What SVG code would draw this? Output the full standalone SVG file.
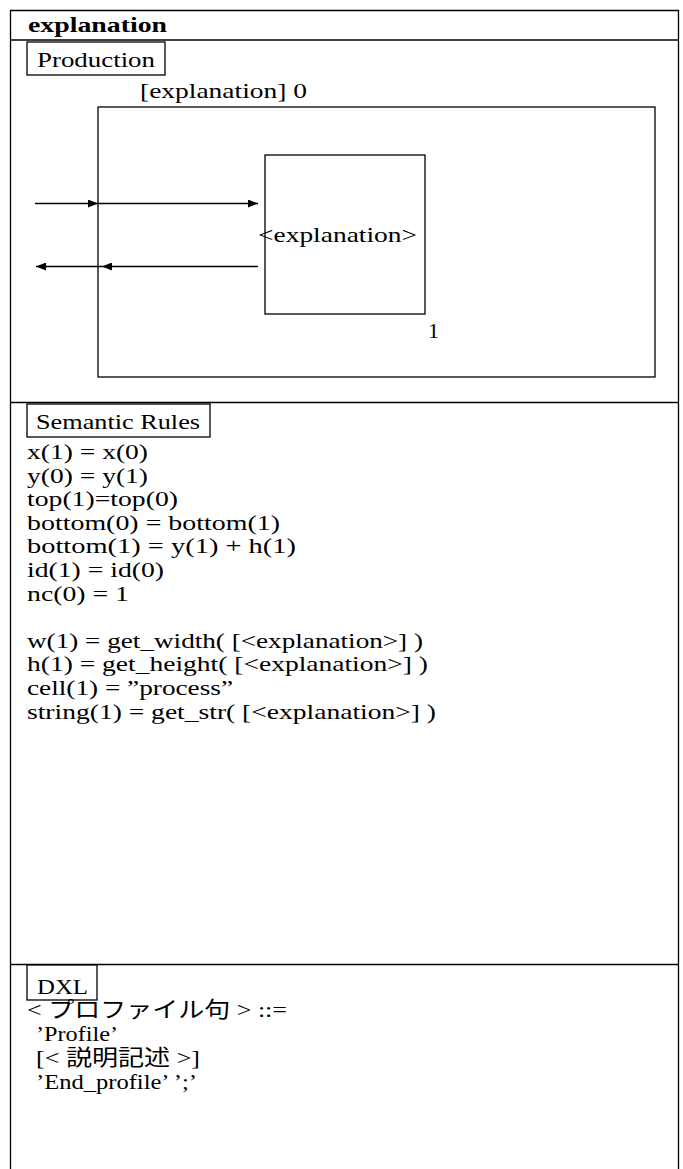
<svg xmlns="http://www.w3.org/2000/svg" width="683" height="1169" viewBox="0 0 683 1169">
<style>
.t{font-family:"Liberation Serif","Noto Sans CJK JP",serif;font-size:22px;fill:#000}
.b{font-weight:bold}
.ln{stroke:#000;stroke-width:1.3;fill:none}
.bx{stroke:#000;stroke-width:1.3;fill:#fff}
.ar{stroke:#000;stroke-width:1.3;fill:none;marker-end:url(#ah)}
</style>
<defs>
<marker id="ah" viewBox="0 0 10 8" refX="10" refY="4" markerWidth="10" markerHeight="8" markerUnits="userSpaceOnUse" orient="auto">
<path d="M0,0 L10,4 L0,8 Z" fill="#000"/>
</marker>
</defs>
<rect x="0" y="0" width="683" height="1169" fill="#fff"/>
<g id="frame">
<path class="ln" d="M10.5,1169 V10.5 H678.5 V1169"/>
<line class="ln" x1="10" y1="40" x2="679" y2="40"/>
<line class="ln" x1="10" y1="402.5" x2="679" y2="402.5"/>
<line class="ln" x1="10" y1="964.5" x2="679" y2="964.5"/>
<text class="t b" x="28" y="32" textLength="139" lengthAdjust="spacingAndGlyphs">explanation</text>
</g>
<g id="production">
<rect class="bx" x="27" y="42" width="138" height="33"/>
<text class="t" x="37" y="67" textLength="118" lengthAdjust="spacingAndGlyphs">Production</text>
<text class="t" x="140" y="98" textLength="167" lengthAdjust="spacingAndGlyphs">[explanation]  0</text>
</g>
<g id="node0">
<rect class="ln" x="98" y="107" width="557" height="270"/>
</g>
<g id="node1">
<rect class="ln" x="265" y="155" width="160" height="159"/>
<text class="t" x="258" y="242" textLength="159" lengthAdjust="spacingAndGlyphs">&lt;explanation&gt;</text>
<text class="t" x="428" y="338">1</text>
</g>
<g id="connectors">
<path class="ar" d="M35,203.5 H98"/>
<path class="ar" d="M98,203.5 H258"/>
<path class="ar" d="M258,266.5 H102"/>
<path class="ar" d="M102,266.5 H36"/>
</g>
<g id="semantic">
<rect class="bx" x="27" y="404" width="183" height="33"/>
<text class="t" x="36" y="429" textLength="164" lengthAdjust="spacingAndGlyphs">Semantic Rules</text>
<text class="t" x="27" y="459" textLength="121" lengthAdjust="spacingAndGlyphs">x(1) = x(0)</text>
<text class="t" x="27" y="482.6" textLength="121" lengthAdjust="spacingAndGlyphs">y(0) = y(1)</text>
<text class="t" x="27" y="506.2" textLength="151" lengthAdjust="spacingAndGlyphs">top(1)=top(0)</text>
<text class="t" x="27" y="529.8" textLength="253" lengthAdjust="spacingAndGlyphs">bottom(0) = bottom(1)</text>
<text class="t" x="27" y="553.4" textLength="269" lengthAdjust="spacingAndGlyphs">bottom(1) = y(1) + h(1)</text>
<text class="t" x="27" y="577" textLength="137" lengthAdjust="spacingAndGlyphs">id(1) = id(0)</text>
<text class="t" x="27" y="600.6" textLength="102" lengthAdjust="spacingAndGlyphs">nc(0) = 1</text>
<text class="t" x="27" y="647.8" textLength="396" lengthAdjust="spacingAndGlyphs">w(1) = get_width( [&lt;explanation&gt;] )</text>
<text class="t" x="27" y="671.4" textLength="401" lengthAdjust="spacingAndGlyphs">h(1) = get_height( [&lt;explanation&gt;] )</text>
<text class="t" x="27" y="695" textLength="206" lengthAdjust="spacingAndGlyphs">cell(1) = ”process”</text>
<text class="t" x="27" y="718.6" textLength="409" lengthAdjust="spacingAndGlyphs">string(1) = get_str( [&lt;explanation&gt;] )</text>
</g>
<g id="dxl">
<rect class="bx" x="27" y="965" width="70" height="35"/>
<text class="t" x="37" y="994" textLength="51" lengthAdjust="spacingAndGlyphs">DXL</text>
<text class="t" x="27" y="1017" textLength="260" lengthAdjust="spacingAndGlyphs">&lt; プロファイル句 &gt;  ::=</text>
<text class="t" x="36" y="1041" textLength="82" lengthAdjust="spacingAndGlyphs">’Profile’</text>
<text class="t" x="36" y="1065" textLength="164" lengthAdjust="spacingAndGlyphs">[&lt; 説明記述 &gt;]</text>
<text class="t" x="36" y="1089" textLength="161" lengthAdjust="spacingAndGlyphs">’End_profile’ ’;’</text>
</g>
</svg>
